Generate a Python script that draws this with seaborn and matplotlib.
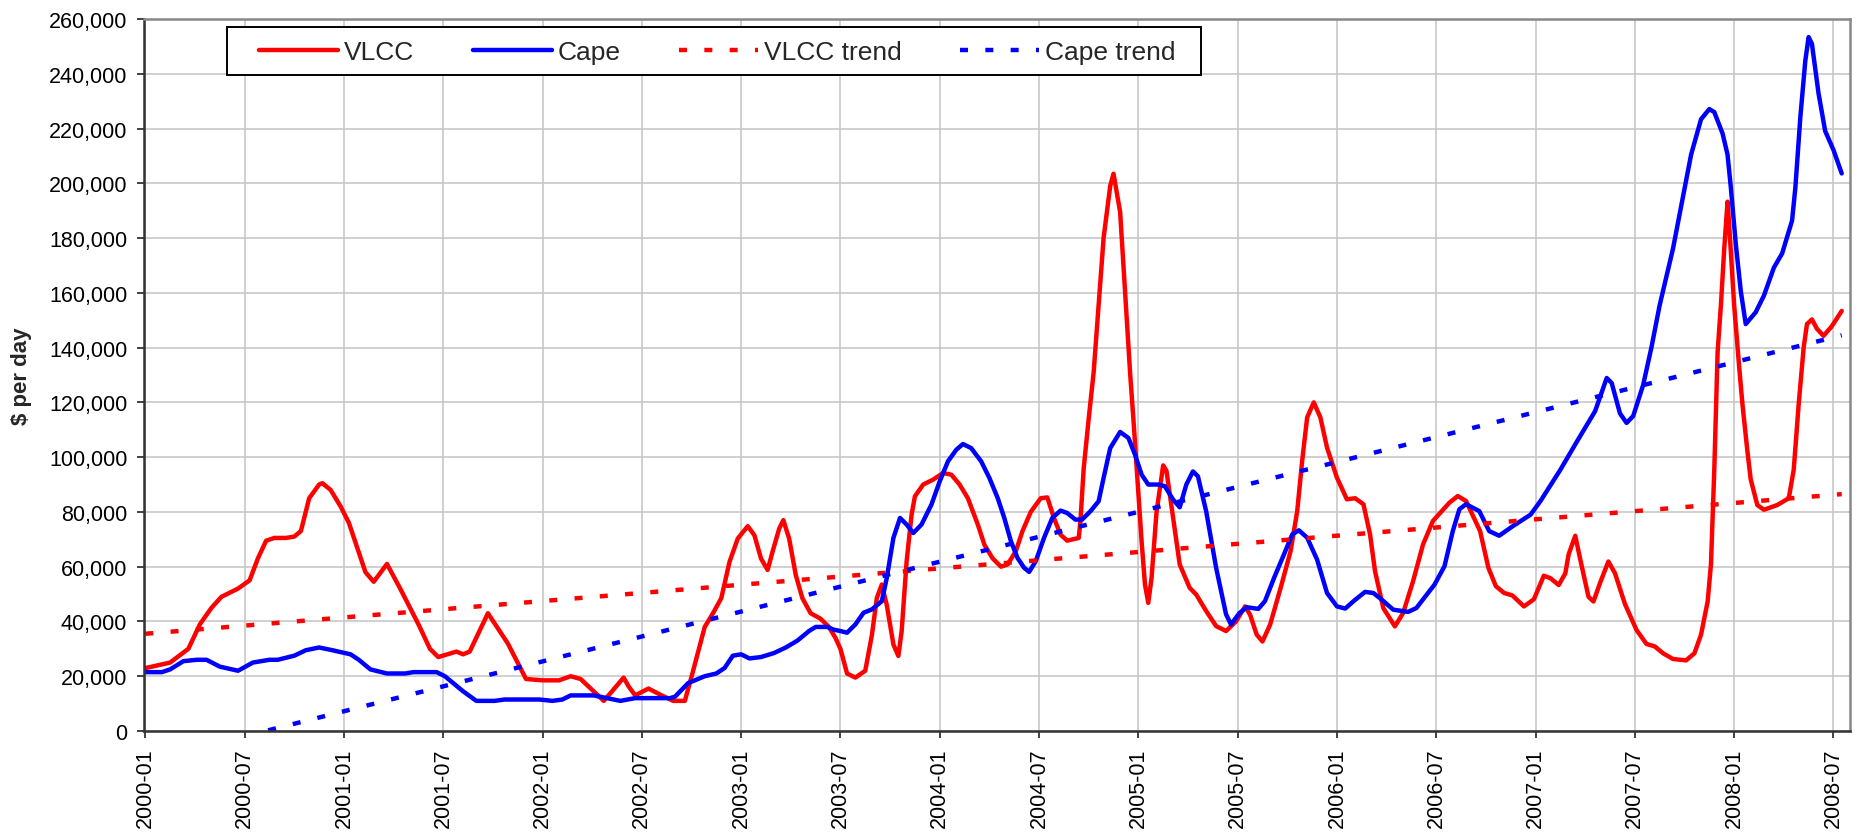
"""VLCC vs Capesize earnings, 2000-2008, with linear trends."""

import matplotlib

matplotlib.use("Agg")

import matplotlib.pyplot as plt
import pandas as pd
import seaborn as sns
from matplotlib.patches import Rectangle
from matplotlib.ticker import FuncFormatter

# x values are months since 2000-01, y values in $ thousand per day
vlcc_month = [
    0.0, 0.4, 1.5, 2.6, 3.3, 4.0, 4.6, 5.6, 6.3, 6.8, 7.3, 7.8, 8.5, 9.0, 9.4, 9.9,
    10.5, 10.7, 11.2, 11.8, 12.3, 12.8, 13.3, 13.8, 14.6, 15.4, 16.5, 17.2, 17.7,
    18.8, 19.2, 19.6, 20.7, 21.9, 23.0, 24.0, 25.0, 25.7, 26.3, 27.7, 28.2, 28.9,
    29.2, 29.6, 30.4, 31.2, 31.9, 32.6, 33.1, 33.8, 34.3, 34.8, 35.3, 35.8, 36.4,
    36.8, 37.2, 37.6, 37.9, 38.3, 38.55, 38.9, 39.3, 39.7, 40.2, 40.8, 41.3, 41.7,
    42.0, 42.4, 42.9, 43.5, 43.9, 44.2, 44.5, 44.8, 45.2, 45.5, 45.7, 46.0, 46.3,
    46.5, 47.0, 47.6, 48.2, 48.7, 49.2, 49.7, 50.3, 50.7, 51.2, 51.7, 52.1, 52.6,
    53.0, 53.5, 54.1, 54.5, 54.9, 55.3, 55.7, 56.4, 56.5, 56.7, 57.0, 57.3, 57.9,
    58.3, 58.5, 58.9, 59.2, 59.5, 59.7, 59.9, 60.2, 60.4, 60.6, 60.8, 61.1, 61.5,
    61.7, 62.1, 62.5, 63.1, 63.5, 64.1, 64.7, 65.3, 65.9, 66.45, 66.75, 67.15,
    67.5, 67.96, 68.6, 69.2, 69.6, 69.9, 70.2, 70.6, 71.0, 71.4, 72.0, 72.6, 73.1,
    73.6, 74.0, 74.3, 74.8, 75.5, 76.0, 76.6, 77.2, 77.8, 78.8, 79.3, 79.8, 80.65,
    81.15, 81.6, 82.1, 82.6, 83.3, 83.9, 84.5, 84.9, 85.4, 85.8, 86.0, 86.4, 86.7,
    87.2, 87.5, 87.9, 88.4, 88.8, 89.4, 90.1, 90.7, 91.2, 91.7, 92.3, 93.1, 93.6,
    94.0, 94.4, 94.6, 94.8, 95.0, 95.2, 95.4, 95.6, 95.7, 96.0, 96.3, 96.5, 96.8,
    97.0, 97.4, 97.8, 98.6, 99.3, 99.6, 99.9, 100.2, 100.4, 100.7, 101.0, 101.4,
    101.9, 102.5,
]
vlcc_rate = [
    23, 23.5, 25, 30, 39, 45, 49, 52, 55, 63, 69.5, 70.5, 70.5, 71, 73, 85,
    90, 90.5, 88, 82, 76, 67, 58, 54.5, 61, 52, 39, 30, 27,
    29, 28, 29, 43, 32, 19, 18.5, 18.5, 20, 19, 11, 14.5, 19.5,
    16.3, 13, 15.5, 13, 11, 11, 22, 38, 43, 48.5, 61.8, 70.3, 74.8,
    71.5, 63, 58.8, 65.5, 73.9, 77, 70.3, 57, 48.5, 43, 41, 38, 34,
    30, 21, 19.5, 22, 35, 48.6, 53.5, 46, 31.6, 27.4, 36.5, 62, 79,
    85.7, 90, 91.8, 94.2, 93.6, 90, 85, 75.4, 68, 63, 60, 60.8, 65.7,
    73, 80, 85, 85.3, 77.8, 71.7, 69.5, 70.5, 76.6, 96, 114, 131, 180,
    199, 203.5, 189.5, 160, 131, 114, 96, 69, 53.5, 46.8, 56, 80, 97,
    95, 77.8, 60.8, 52.3, 49.8, 43.8, 38.3, 36.5, 40, 45.5, 42.5, 35.2,
    32.7, 38.8, 52.3, 65.7, 80.3, 98.7, 114.5, 120, 114.5, 103.5, 92.5, 84.6, 85,
    82.8, 71.8, 58.4, 44.9, 38.2, 43.1, 54.7, 68.1, 76.7, 83.4, 85.8, 84, 73,
    59.6, 52.9, 50.4, 49.5, 45.5, 48.1, 56.7, 55.8, 53.3, 57.6, 64.5, 71.3, 62.7,
    49, 47.3, 54.1, 61.9, 57.6, 46.4, 36.9, 31.8, 30.9, 28.4, 26.3, 25.8, 28.4,
    35.2, 47.3, 61, 95.4, 138.3, 155.5, 176, 193.3, 184.7, 155.5, 133.2, 119.4, 102.2,
    91.9, 82.5, 80.8, 82.5, 85, 95.4, 119.4, 140, 148.6, 150.3, 146.9, 144.3,
    147.8, 153.4,
]

cape_month = [
    0.0, 1.0, 1.5, 2.3, 3.1, 3.7, 4.5, 5.6, 6.5, 7.5, 8.0, 9.0, 9.7, 10.5, 11.3,
    12.4, 12.9, 13.6, 14.6, 15.7, 16.2, 17.6, 18.1, 18.7, 19.2, 20.0, 21.1, 21.7,
    23.8, 24.6, 25.2, 25.7, 27.1, 27.9, 28.7, 29.6, 31.7, 32.0, 32.8, 33.8, 34.5,
    35.0, 35.5, 36.0, 36.5, 37.2, 38.0, 38.7, 39.4, 40.1, 40.5, 41.2, 41.6, 42.0,
    42.4, 42.9, 43.4, 43.9, 44.5, 44.8, 45.2, 45.6, 46.0, 46.4, 46.9, 47.5, 48.0,
    48.5, 49.0, 49.4, 49.9, 50.5, 51.0, 51.5, 51.9, 52.3, 52.7, 53.1, 53.4, 53.8,
    54.3, 54.8, 55.3, 55.7, 56.2, 56.6, 57.1, 57.6, 57.9, 58.3, 58.9, 59.4, 59.8,
    60.2, 60.6, 61.2, 61.6, 62.1, 62.5, 62.9, 63.3, 63.6, 64.1, 64.7, 65.3, 65.6,
    66.1, 66.55, 67.25, 67.65, 68.2, 68.8, 69.3, 69.7, 70.2, 70.8, 71.4, 72.0,
    72.5, 73.0, 73.7, 74.2, 74.7, 75.4, 76.3, 76.8, 77.9, 78.5, 79.0, 79.4, 79.8,
    80.6, 81.2, 81.8, 82.6, 83.7, 84.3, 85.5, 86.5, 87.6, 88.3, 88.6, 89.1, 89.5,
    89.9, 90.5, 91.0, 91.5, 92.3, 92.8, 93.4, 94.0, 94.5, 94.8, 95.3, 95.6, 95.8,
    96.1, 96.4, 96.7, 97.3, 97.8, 98.4, 98.9, 99.5, 99.7, 100.0, 100.3, 100.5,
    100.7, 101.1, 101.5, 102.0, 102.5,
]
cape_rate = [
    21.5, 21.5, 22.5, 25.5, 26, 26, 23.5, 22, 25, 26, 26, 27.5, 29.5, 30.5, 29.5,
    28, 26, 22.5, 21, 21, 21.5, 21.5, 20, 17, 14.5, 11, 11, 11.5,
    11.5, 11, 11.5, 13, 13, 12, 11, 12, 12, 12.5, 17.5, 20, 21,
    23, 27.5, 28, 26.5, 27, 28.5, 30.5, 33, 36.5, 38, 38, 37, 36.5,
    35.9, 38.9, 43.2, 44.4, 47.4, 55.9, 70.5, 77.8, 75.4, 72.3, 75.4, 82.7, 91.2,
    98.5, 102.7, 104.8, 103.3, 98.5, 92.4, 85.1, 77.8, 69.3, 63.2, 59.6, 58.1, 62,
    70.5, 77.8, 80.5, 79.6, 77.2, 77.2, 80.2, 83.9, 92.4, 103.3, 109.2, 107, 100.9,
    93.6, 90, 90, 89.4, 84.5, 81.7, 90, 94.8, 93, 80.2, 59.6, 42.6, 38.9,
    43, 45.2, 44.6, 47.4, 55.9, 64.5, 71.8, 73.3, 70.6, 62.6, 50.4, 45.5,
    44.7, 47.4, 50.8, 50.4, 48, 44.3, 43.5, 44.9, 53.5, 60.2, 73, 81, 82.8,
    80.3, 73, 71.3, 74.7, 79, 84, 95.4, 105.7, 116.8, 128.9, 127.1, 116, 112.5,
    115, 126.3, 140, 155.5, 176, 191.6, 210.5, 223.4, 227.1, 226, 218.2, 210.5, 198.5,
    177.8, 160.7, 148.6, 152.9, 159, 169.2, 174.4, 186.4, 198.5, 224.2, 244.8, 253.4,
    250.9, 232.8, 219.1, 212.2, 203.6,
]

# linear trend end points
trend_month = [0.0, 102.5]
vlcc_trend = [35.5, 86.5]
cape_trend = [-11.0, 144.5]

tick_labels = [
    "2000-01", "2000-07", "2001-01", "2001-07", "2002-01", "2002-07", "2003-01",
    "2003-07", "2004-01", "2004-07", "2005-01", "2005-07", "2006-01", "2006-07",
    "2007-01", "2007-07", "2008-01", "2008-07",
]

RED = "#ff0000"
BLUE = "#0000ff"

sns.set_theme(style="whitegrid")
plt.rcParams["font.family"] = ["Liberation Sans", "DejaVu Sans"]

W, H = 1868, 837
fig = plt.figure(figsize=(W / 100, H / 100), dpi=100)
ax = fig.add_axes([144 / W, 1 - 732 / H, (1850 - 144) / W, (732 - 20) / H])

vlcc = pd.DataFrame({"month": vlcc_month, "rate": [v * 1000 for v in vlcc_rate]})
cape = pd.DataFrame({"month": cape_month, "rate": [v * 1000 for v in cape_rate]})
trend = pd.DataFrame({
    "month": trend_month,
    "vlcc": [v * 1000 for v in vlcc_trend],
    "cape": [v * 1000 for v in cape_trend],
})

lw = 3.2
dash = (0, (1.8, 3.9))
sns.lineplot(data=vlcc, x="month", y="rate", color=RED, lw=lw, label="VLCC",
             legend=False, ax=ax, solid_joinstyle="round", solid_capstyle="round")
sns.lineplot(data=cape, x="month", y="rate", color=BLUE, lw=lw, label="Cape",
             legend=False, ax=ax, solid_joinstyle="round", solid_capstyle="round")
sns.lineplot(data=trend, x="month", y="vlcc", color=RED, lw=lw, ls=dash,
             label="VLCC trend", legend=False, ax=ax)
sns.lineplot(data=trend, x="month", y="cape", color=BLUE, lw=lw, ls=dash,
             label="Cape trend", legend=False, ax=ax)

ax.set_xlim(-0.08, 103.0)
ax.set_ylim(0, 260000)
ax.set_xticks(range(0, 103, 6))
ax.set_xticklabels(tick_labels, rotation=90)
ax.set_yticks(range(0, 260001, 20000))
ax.yaxis.set_major_formatter(FuncFormatter(lambda v, _: f"{v:,.0f}"))
ax.set_xlabel("")
ax.set_ylabel("$ per day", fontsize=16, fontweight="bold", labelpad=12)

ax.grid(True, color="#c4c4c4", lw=1.1)
ax.tick_params(axis="both", which="major", direction="out", length=5, width=1.3,
               color="#333333", labelsize=15.5, labelcolor="black",
               left=True, bottom=True)
ax.tick_params(axis="y", pad=7)
ax.tick_params(axis="x", pad=7)
for side in ("left", "bottom"):
    ax.spines[side].set_color("#333333")
    ax.spines[side].set_linewidth(1.8)
for side in ("top", "right"):
    ax.spines[side].set_color("#888888")
    ax.spines[side].set_linewidth(1.8)

# legend box drawn by hand so the padding matches
box = Rectangle((226.7 / W, 1 - 76 / H), (1201 - 226.7) / W, (76 - 28.3) / H,
                transform=fig.transFigure, facecolor="white", edgecolor="black",
                lw=1.4, zorder=4)
fig.add_artist(box)
handles, labels = ax.get_legend_handles_labels()
fig.legend(handles, labels, loc="center left", bbox_to_anchor=(259 / W, 1 - 53 / H),
           ncol=4, frameon=False, fontsize=19, handlelength=3.0,
           handletextpad=0.23, columnspacing=2.2, borderpad=0, borderaxespad=0)

fig.savefig("out.png", dpi=100)
plt.close(fig)
